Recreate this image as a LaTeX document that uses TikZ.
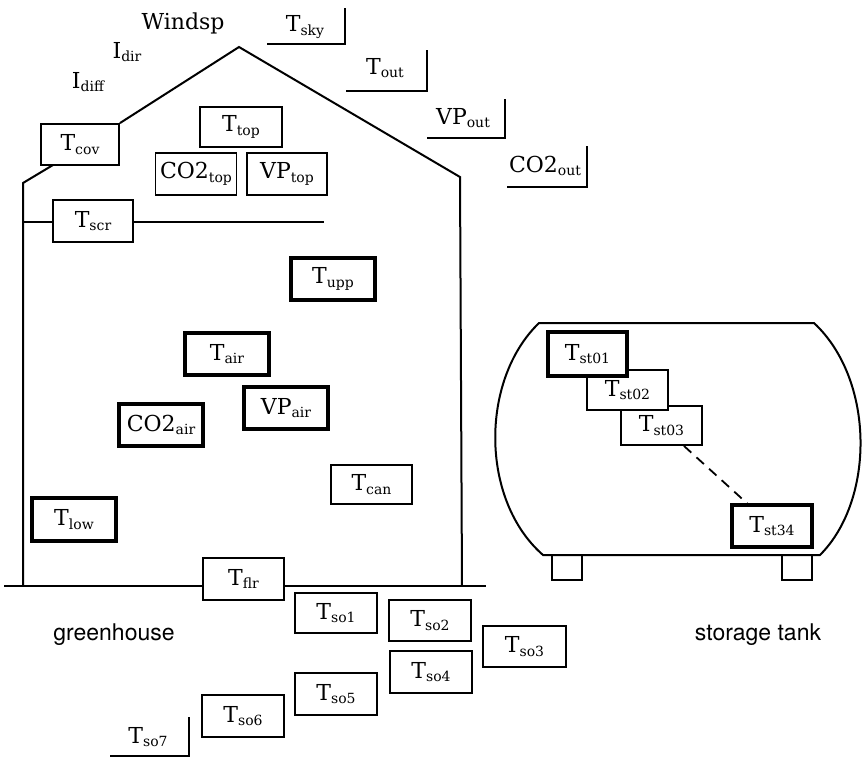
\documentclass[tikz,border=0pt]{standalone}
\usepackage{fontspec}
\setmainfont{DejaVu Serif}
\newfontfamily\gsans{TeX Gyre Heros}
\newcommand{\lbx}[2]{#1\raisebox{-3.5pt}{\fontsize{14}{14}\selectfont #2}}
\begin{document}
\begin{tikzpicture}[x=1pt,y=-1pt,
  lab/.style={inner sep=0pt, font=\fontsize{22}{25}\selectfont},
  thinbox/.style={lab, draw, fill=white, line width=1.8pt, minimum width=81pt, minimum height=41pt},
  thickbox/.style={lab, draw, fill=white, line width=3.2pt, minimum width=84pt, minimum height=42pt},
  wall/.style={line width=2pt, line join=miter},
  brk/.style={line width=1.6pt},
  caption/.style={inner sep=0pt, anchor=base, font=\gsans\fontsize{23}{26}\selectfont}]
\useasboundingbox (0,0) rectangle (862,758);

% ---------- greenhouse boxes ----------
\node[thinbox, minimum width=78pt] (cov) at (80,144.5) {\lbx{T}{cov}};
\node[thinbox, minimum width=82pt, minimum height=40pt] (top) at (241,127) {\lbx{T}{top}};
\node[thinbox, minimum height=42pt] (co2top) at (196,174) {\lbx{CO2}{top}};
\node[thinbox, minimum width=80pt, minimum height=42pt] (vptop) at (287,174) {\lbx{VP}{top}};
\node[thinbox, minimum width=80pt, minimum height=42pt] (scr) at (93,221) {\lbx{T}{scr}};
\node[thickbox] (upp) at (333,279) {\lbx{T}{upp}};
\node[thickbox] (air) at (227,354) {\lbx{T}{air}};
\node[thickbox] (vpair) at (286,408) {\lbx{VP}{air}};
\node[thickbox] (co2air) at (161,425) {\lbx{CO2}{air}};
\node[thinbox, minimum height=39pt] (can) at (371.5,484.5) {\lbx{T}{can}};
\node[thickbox, minimum height=43pt] (low) at (74,519.5) {\lbx{T}{low}};
\node[thinbox, minimum height=42pt] (flr) at (243.5,579) {\lbx{T}{flr}};

% ---------- soil boxes ----------
\node[thinbox, minimum width=82pt, minimum height=40pt] (so1) at (336,613) {\lbx{T}{so1}};
\node[thinbox, minimum width=82pt] (so2) at (430,620.5) {\lbx{T}{so2}};
\node[thinbox, minimum width=83pt] (so3) at (524.5,646.5) {\lbx{T}{so3}};
\node[thinbox, minimum width=82pt, minimum height=42pt] (so4) at (431,672) {\lbx{T}{so4}};
\node[thinbox, minimum width=82pt, minimum height=42pt] (so5) at (336,694) {\lbx{T}{so5}};
\node[thinbox, minimum width=82pt, minimum height=42pt] (so6) at (243,716) {\lbx{T}{so6}};

% ---------- outside labels ----------
\node[lab] (wind) at (183,23) {Windsp};
\node[lab] (idir) at (127,52) {\lbx{I}{dir}};
\node[lab] (idiff) at (88,82) {\lbx{I}{diff}};
\node[lab] (sky) at (305,27) {\lbx{T}{sky}};
\node[lab] (out) at (385,68) {\lbx{T}{out}};
\node[lab] (vpout) at (463,118) {\lbx{VP}{out}};
\node[lab] (co2out) at (545,166) {\lbx{CO2}{out}};
\node[lab] (so7) at (148,737) {\lbx{T}{so7}};

\draw[brk] (267,44) -- (345,44) -- (345,8);
\draw[brk] (346,91) -- (427,91) -- (427,50);
\draw[brk] (427,138) -- (505,138) -- (505,99);
\draw[brk] (507,187) -- (587,187) -- (587,146);
\draw[brk] (110,756) -- (189,756) -- (189,717);

% ---------- greenhouse outline ----------
\coordinate (peak) at (239,47);
\coordinate (eave) at (460,177);
\coordinate (rfoot) at (462,586);
\coordinate (covb) at (53,165);
\coordinate (lwtop) at (23,183);
\coordinate (lfoot) at (23,586);
\coordinate (lscr) at (23,222);
\coordinate (rscr) at (324,222);
\coordinate (fl0) at (4,586);
\coordinate (fl1) at (486,586);
\draw[wall] (cov.north east) -- (peak) -- (eave) -- (rfoot);
\draw[wall] (covb) -- (lwtop) -- (lfoot);
\draw[wall] (lscr) -- (lscr -| scr.west);
\draw[wall] (rscr -| scr.east) -- (rscr);
\draw[wall] (fl0) -- (fl0 -| flr.west);
\draw[wall] (fl0 -| flr.east) -- (fl1);

\node[caption] (gh) at (114,640) {greenhouse};

% ---------- storage tank ----------
\coordinate (tl) at (539,323);
\coordinate (tr) at (814,323);
\coordinate (br) at (820,555);
\coordinate (bl) at (543,555);
\draw[wall] (tl) -- (tr) .. controls (875,380) and (875,500) .. (br) -- (bl) .. controls (480,500) and (480,380) .. (tl) -- cycle;
\draw[line width=1.6pt] (552,555) rectangle (582,580);
\draw[line width=1.6pt] (782,555) rectangle (812,580);

\node[thinbox, minimum height=39pt] (st03) at (661.5,425.5) {\lbx{T}{st03}};
\node[thinbox, minimum height=40pt] (st02) at (627.5,390) {\lbx{T}{st02}};
\node[thickbox, minimum width=79pt, minimum height=44pt] (st01) at (587.5,354) {\lbx{T}{st01}};
\node[thickbox, minimum width=80pt] (st34) at (772,526) {\lbx{T}{st34}};
\draw[line width=1.8pt, dash pattern=on 10pt off 7pt] (st03) -- (st34);

\node[caption] (tank) at (758,640) {storage tank};
\end{tikzpicture}
\end{document}
